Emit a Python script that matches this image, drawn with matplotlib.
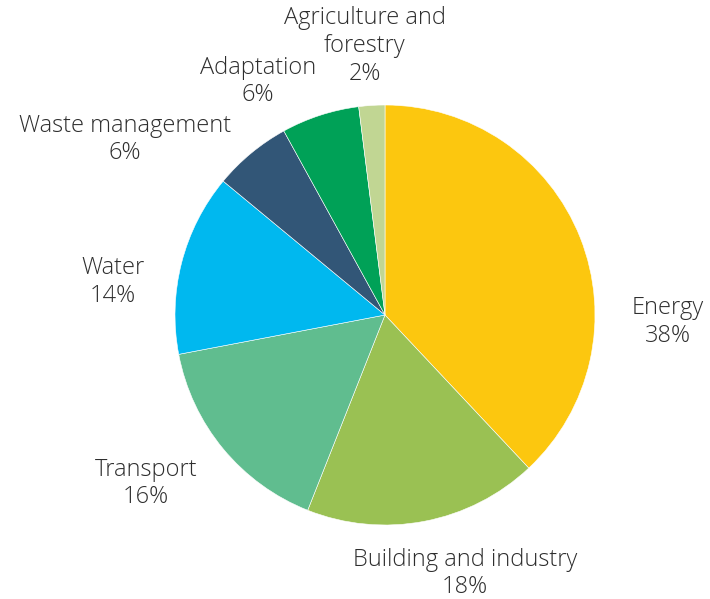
import matplotlib
matplotlib.use("Agg")
import matplotlib.pyplot as plt

# ------------------------------------
# Data
# ------------------------------------
sectors = ["Energy", "Building and industry", "Transport", "Water",
           "Waste management", "Adaptation", "Agriculture and\nforestry"]
shares = [38, 18, 16, 14, 6, 6, 2]
colors = ["#FCC70F", "#9AC153", "#60BD8F", "#00B8EF",
          "#325677", "#00A157", "#C1D693"]

# label top-line centres (pixel coords of the reference, converted below)
label_px = [(668, 307), (465, 558), (146, 468), (113, 267),
            (125, 124), (258, 66), (365, 17)]

plt.rcParams['font.family'] = ['Open Sans', 'DejaVu Sans']

W, H = 710, 599
cx, cy, R = 385, 315, 210
step = 27.5      # line step in pixels
base_off = 7.5   # baseline below line centre

fig = plt.figure(figsize=(W / 100, H / 100), dpi=100)
ax = fig.add_axes([0, 0, 1, 1])

ax.pie(shares, colors=colors, startangle=90, counterclock=False,
       radius=1.0, wedgeprops=dict(edgecolor="white", linewidth=0.4))

# one text per line, so the blocks do not run into each other
for name, val, (px, py) in zip(sectors, shares, label_px):
    lines = name.split("\n") + [f"{val}%"]
    for i, line in enumerate(lines):
        y = py + i * step + base_off
        ax.text((px - cx) / R, (cy - y) / R, line,
                ha="center", va="baseline", fontsize=17, color="#2e2e2e",
                fontweight="light")

ax.set_xlim(-cx / R, (W - cx) / R)
ax.set_ylim((cy - H) / R, cy / R)
ax.set_aspect("equal")
ax.axis("off")

fig.savefig("out.png", dpi=100, facecolor="white")
